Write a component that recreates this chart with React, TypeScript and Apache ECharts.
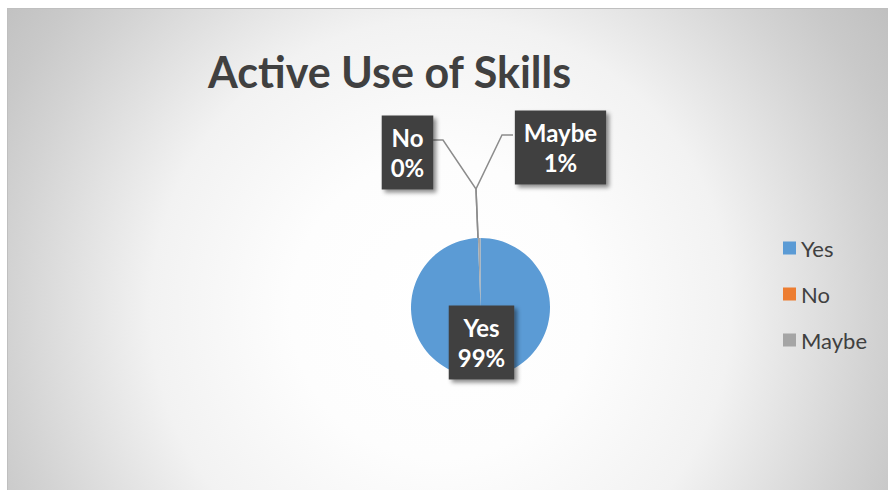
import React, { useEffect, useRef } from 'react';
import * as echarts from 'echarts';

// ---- data ----
const categories: string[] = ['Yes', 'No', 'Maybe'];
const values: number[] = [99.4, 0, 0.6];
const colors: string[] = ['#5b9bd5', '#ed7d31', '#a5a5a5'];
const titleText = 'Active Use of Skills';

// ---- layout ----
const W = 881;
const H = 482;
const CX = 473.5;
const CY = 299.5;
const R = 69.5;
const labelCenters: number[][] = [
  [474.5, 334.5],
  [400.5, 144.5],
  [553.5, 139.5],
];
const leaderPoints: (number[][] | null)[] = [
  null,
  [[CX - 2.5, CY - R], [CX - 4.5, CY - R - 49], [436, 132], [425, 132]],
  [[CX - 2.5, CY - R], [CX - 4.5, CY - R - 49], [495, 127], [506, 127]],
];

export default function App() {
  const ref = useRef<HTMLDivElement>(null);
  useEffect(() => {
    if (!ref.current) return;
    const chart = echarts.init(ref.current, null, { renderer: 'svg' });
    chart.setOption({
      animation: false,
      title: {
        text: titleText,
        left: 196,
        top: 37,
        textStyle: { fontFamily: 'Lato', fontWeight: 'bold', fontSize: 43, color: '#404040' },
      },
      legend: {
        orient: 'vertical',
        left: 771,
        top: 224,
        icon: 'rect',
        itemWidth: 13,
        itemHeight: 13,
        itemGap: 24,
        selectedMode: false,
        data: categories,
        textStyle: { fontFamily: 'Lato', fontSize: 22, color: '#404040' },
      },
      series: [
        {
          type: 'pie',
          center: [CX, CY],
          radius: R,
          startAngle: 90,
          clockwise: true,
          silent: true,
          emphasis: { disabled: true },
          itemStyle: { borderWidth: 0 },
          data: categories.map((n, i) => ({
            name: n,
            value: values[i],
            itemStyle: { color: colors[i] },
            labelLine: { show: i !== 0 },
          })),
          label: {
            show: true,
            position: 'outside',
            formatter: (p: any) => `${p.name}\n${Math.round(p.percent)}%`,
            color: '#ffffff',
            fontFamily: 'Lato',
            fontWeight: 'bold',
            fontSize: 24,
            lineHeight: 30,
            align: 'center',
            backgroundColor: '#404040',
            padding: [7, 9],
            shadowColor: 'rgba(0,0,0,0.45)',
            shadowBlur: 4,
            shadowOffsetX: 3,
            shadowOffsetY: 3,
          },
          labelLine: {
            length: 10,
            length2: 10,
            lineStyle: { color: '#8c8c8c', width: 1.5 },
          },
          labelLayout: (p: any) => {
            const i = p.dataIndex;
            const [x, y] = labelCenters[i];
            const o: any = { x, y, align: 'center', verticalAlign: 'middle' };
            if (leaderPoints[i]) o.labelLinePoints = leaderPoints[i];
            return o;
          },
        },
      ],
    });
    return () => chart.dispose();
  }, []);

  return (
    <div style={{ position: 'fixed', left: 0, top: 0, width: 888, height: 490, background: '#ffffff' }}>
      <div
        style={{
          position: 'absolute',
          left: 7,
          top: 8,
          width: W,
          height: H,
          boxSizing: 'border-box',
          borderTop: '1px solid #bfbfbf',
          borderLeft: '1px solid #bfbfbf',
          background:
            'radial-gradient(circle at 433px 300px, #ffffff 0px, #fdfdfd 150px, #f2f2f2 290px, #d3d3d3 430px, #c9c9c9 480px, #c0c0c0 540px)',
        }}
      >
        <div ref={ref} style={{ position: 'absolute', left: -1, top: -1, width: W, height: H }} />
      </div>
    </div>
  );
}
